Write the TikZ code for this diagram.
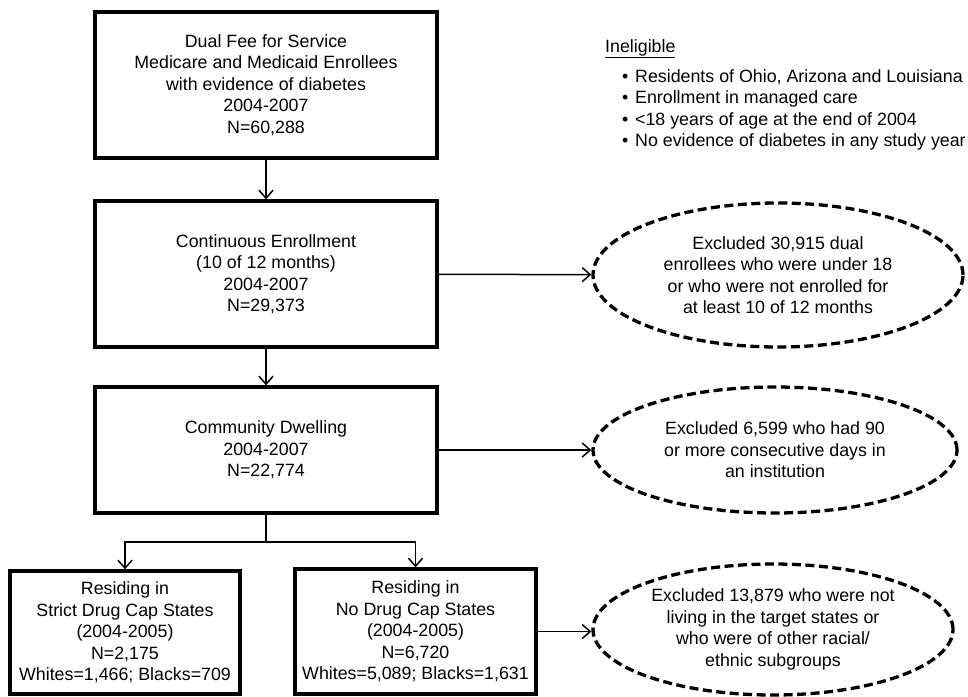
\documentclass[tikz,border=0pt]{standalone}
\usepackage{fontspec}
\setmainfont{Liberation Sans}
\usetikzlibrary{shapes.geometric,arrows.meta,positioning}
\def \linecolor {black}
\def \boxfont {\fontsize{17.8}{21.5}\selectfont}
\def \bul {\makebox[13pt][l]{\textbullet}}
\tikzset{
  stagebox/.style={draw=\linecolor, line width=3.3pt, rectangle, inner sep=0pt,
    align=center, font=\boxfont},
  excluded/.style={draw=\linecolor, line width=3.3pt, ellipse, inner sep=0pt,
    dash pattern=on 9pt off 4.5pt, align=center, font=\boxfont},
  flow/.style={draw=\linecolor, line width=1.5pt, -{Straight Barb[length=8pt,width=14pt,line width=1.5pt]}}
}
\begin{document}
\begin{tikzpicture}[x=1pt,y=-1pt]
\useasboundingbox (0,0) rectangle (968,696);
% Draw the main stages
\node (dual) [stagebox, minimum width=342pt, minimum height=146pt] at (266,85)
  {Dual Fee for Service\\Medicare and Medicaid Enrollees\\with evidence of diabetes\\2004-2007\\N=60,288};
\node (enroll) [stagebox, minimum width=342pt, minimum height=146pt] at (266,274)
  {Continuous Enrollment\\(10 of 12 months)\\2004-2007\\N=29,373};
\node (community) [stagebox, minimum width=342pt, minimum height=126pt] at (266,450)
  {Community Dwelling\\2004-2007\\N=22,774};
% Draw the two state groups
\node (strict) [stagebox, minimum width=230pt, minimum height=123pt] at (125,632.5)
  {Residing in\\Strict Drug Cap States\\(2004-2005)\\N=2,175\\Whites=1,466; Blacks=709};
\node (nocap) [stagebox, minimum width=241pt, minimum height=125pt] at (415.5,631.5)
  {Residing in\\No Drug Cap States\\(2004-2005)\\N=6,720\\Whites=5,089; Blacks=1,631};
% Draw the exclusions
\node (ex1) [excluded, minimum width=370pt, minimum height=144pt] at (778,275)
  {Excluded 30,915 dual\\enrollees who were under 18\\or who were not enrolled for\\at least 10 of 12 months};
\node (ex2) [excluded, minimum width=364pt, minimum height=126pt] at (775,450)
  {Excluded 6,599 who had 90\\or more consecutive days in\\an institution};
\node (ex3) [excluded, minimum width=360pt, minimum height=131pt] at (773,629.5)
  {Excluded 13,879 who were not\\living in the target states or\\who were of other racial/\\ethnic subgroups};
% Draw the ineligible list
\node (inelig) [font=\boxfont, inner sep=0pt, anchor=base west] at (605,52) {\underline{Ineligible}};
\node (reasons) [font=\boxfont, inner sep=0pt, align=left, anchor=north west] at (622,69)
  {\bul Residents of Ohio, Arizona and Louisiana\\\bul Enrollment in managed care\\
   \bul <18 years of age at the end of 2004\\\bul No evidence of diabetes in any study year};
% Draw the arrows
\draw[flow] (dual) -- (enroll);
\draw[flow] (enroll) -- (community);
\coordinate (split) at (266,542);
\draw[\linecolor, line width=1.5pt] (community) -- (split);
\draw[flow] (split) -| (strict);
\draw[flow] (split) -| (nocap);
\draw[flow] (enroll) -- (ex1);
\draw[flow] (community) -- (ex2);
\draw[flow] (nocap.east) -- (nocap.east -| ex3.west);
\end{tikzpicture}
\end{document}
